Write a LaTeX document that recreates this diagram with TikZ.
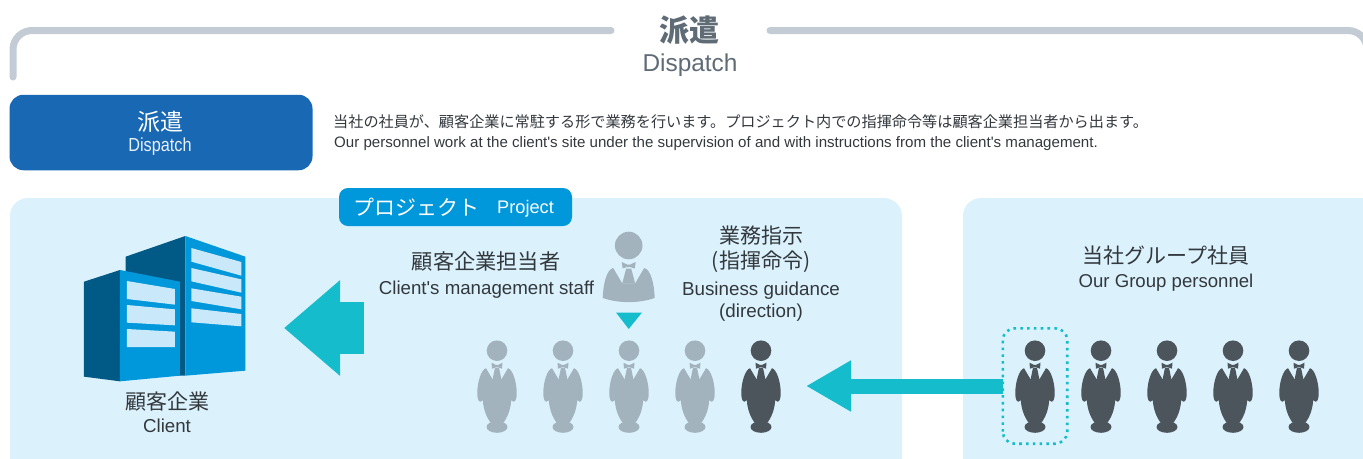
\documentclass[tikz,border=0pt]{standalone}
\usepackage{fontspec}
\setmainfont{Liberation Sans}
\newfontfamily\jp{Noto Sans CJK JP}
\newfontfamily\narrowf[FakeStretch=.86]{Liberation Sans}
\newfontfamily\plainf{Liberation Sans}
\usetikzlibrary{arrows.meta}
\definecolor{frameC}{HTML}{C3CCD4}
\definecolor{panelC}{HTML}{DBF2FD}
\definecolor{boxC}{HTML}{1868B4}
\definecolor{projC}{HTML}{0097DB}
\definecolor{tealC}{HTML}{15BCCC}
\definecolor{grayP}{HTML}{A3B3BD}
\definecolor{darkP}{HTML}{4C545C}
\definecolor{bldD}{HTML}{015A85}
\definecolor{winC}{HTML}{C9E9FB}
\definecolor{titleC}{HTML}{5F6B75}
\definecolor{textC}{HTML}{33383D}
\newcommand\fs[1]{\fontsize{#1}{#1}\selectfont}
\newcommand\sq{{\plainf\char"27}}
\tikzset{
  lbl/.style={anchor=base,inner sep=0pt,text=textC,align=center},
  panel/.style={fill=panelC,rounded corners=18pt},
  person/.pic={
    \fill[#1] (0,0) circle[radius=10.3];
    \fill[#1] (-11,17.5) .. controls (-16,19) and (-19.7,32) .. (-19.7,42)
      .. controls (-19.7,47) and (-19,51) .. (-16.5,51) -- (-14.2,49.5)
      .. controls (-13.5,60) and (-10,67) .. (-6.5,72) -- (6.5,72)
      .. controls (10,67) and (13.5,60) .. (14.2,49.5) -- (16.5,51)
      .. controls (19,51) and (19.7,47) .. (19.7,42)
      .. controls (19.7,32) and (16,19) .. (11,17.5) -- (4.5,28.5) -- (-4.5,28.5) -- cycle;
    \fill[#1] (0,76.3) ellipse[x radius=10.5,y radius=5.8];
    \fill[#1] (-2,17) -- (2,17) -- (4.5,29) -- (-4.5,29) -- cycle;
    \fill[#1] (-5.5,12) -- (-1,14.2) -- (1,14.2) -- (5.5,12) -- (5,18) -- (1,16.5) -- (-1,16.5) -- (-5,18) -- cycle;
  }
}
\begin{document}
\begin{tikzpicture}[x=1pt,y=-1pt]
\path[use as bounding box] (0,0) rectangle (1363,458);
\clip (0,0) rectangle (1363,458);
% frame
\coordinate (frameL) at (13,77);
\coordinate (frameLE) at (611,30.5);
\coordinate (frameRS) at (770,30.5);
\draw[frameC,line width=7pt,line cap=round,rounded corners=19pt] (frameL) -- (13,30.5) -- (frameLE);
\draw[frameC,line width=7pt,line cap=round,rounded corners=19pt] (frameRS) -- (1367,30.5) -- (1367,77);
\node[lbl,text=titleC,font=\jp\bfseries\fs{30}] (title) at (689.5,41) {派遣};
\node[lbl,text=titleC,font=\fs{24.4}] (titleEn) at (690,71) {Dispatch};
% blue tag
\node[fill=boxC,rounded corners=14pt,minimum width=303pt,minimum height=75.5pt,inner sep=0pt] (tag) at (161,132.5) {};
\node[lbl,text=white,font=\jp\fs{23}] (tagJa) at (160,130) {派遣};
\node[lbl,text=white!90!boxC,font=\narrowf\fs{18.9}] (tagEn) at (160,151) {Dispatch};
\node[lbl,anchor=base west,font=\jp\fs{15.15}] (descJa) at (333,127.5) {当社の社員が、顧客企業に常駐する形で業務を行います。プロジェクト内での指揮命令等は顧客企業担当者から出ます。};
\node[lbl,anchor=base west,font=\fs{15.1}] (descEn) at (334,147.5) {Our personnel work at the client\sq s site under the supervision of and with instructions from the client\sq s management.};
% panels
\fill[panel] (10,198) rectangle (902,480);
\fill[panel] (963,198) rectangle (1400,480);
\node[fill=projC,rounded corners=9pt,minimum width=233pt,minimum height=38pt,inner sep=0pt] (proj) at (455.5,207) {};
\node[lbl,anchor=base west,text=white,font=\jp\fs{21}] (projJa) at (353,215) {プロジェクト};
\node[lbl,anchor=base west,text=white,font=\fs{18.2}] (projEn) at (497,213) {Project};
% building
\begin{scope}[shift={(0pt,-190pt)},x=0.33333pt,y=-0.33333pt]
\fill[bldD] (377,200) -- (556,138) -- (556,557) -- (377,557) -- cycle;
\fill[projC] (556,138) -- (736,200) -- (736,542) -- (556,557) -- cycle;
\fill[winC] (574,174) -- (724,216) -- (724,257) -- (574,215) -- cycle;
\fill[winC] (574,234) -- (724,268) -- (724,308) -- (574,274) -- cycle;
\fill[winC] (574,295) -- (724,320) -- (724,358) -- (574,333) -- cycle;
\fill[winC] (574,355) -- (724,372) -- (724,409) -- (574,397) -- cycle;
\fill[bldD] (252,275) -- (360,240) -- (360,574) -- (252,560) -- cycle;
\fill[projC] (360,240) -- (540,275) -- (540,557) -- (360,574) -- cycle;
\fill[winC] (381,273) -- (525,297) -- (525,344) -- (381,327) -- cycle;
\fill[winC] (381,345) -- (525,358) -- (525,406) -- (381,398) -- cycle;
\fill[winC] (381,417) -- (525,425) -- (525,471) -- (381,471) -- cycle;
\end{scope}
\node[lbl,font=\jp\fs{21}] (clientJa) at (167,409) {顧客企業};
\node[lbl,font=\fs{18.7}] (clientEn) at (167,432) {Client};
% labels
\node[lbl,font=\jp\fs{21.2}] (mgrJa) at (486,269) {顧客企業担当者};
\node[lbl,font=\fs{18.7}] (mgrEn) at (486.5,294) {Client\sq s management staff};
\node[lbl,font=\jp\fs{21}] (bizJa1) at (761,243) {業務指示};
\node[lbl,font=\jp\fs{21}] (bizJa2) at (761,268) {(指揮命令)};
\node[lbl,font=\fs{18.8}] (bizEn1) at (761,295) {Business guidance};
\node[lbl,font=\fs{18.8}] (bizEn2) at (761,317) {(direction)};
\node[lbl,font=\jp\fs{21}] (grpJa) at (1166,263) {当社グループ社員};
\node[lbl,font=\fs{18.6}] (grpEn) at (1166,287) {Our Group personnel};
% manager
\coordinate (mgr) at (628.7,245.5);
\begin{scope}[shift={(mgr)}]
\fill[grayP] (0,0) circle[radius=13.8];
\fill[grayP] (-15.5,22.5) .. controls (-22,24) and (-25.5,38) .. (-26,52.5)
  .. controls (-10,58) and (10,58) .. (26,52.5)
  .. controls (25.5,38) and (22,24) .. (15.5,22.5) -- (6.5,37.8) -- (-6.5,37.8) -- cycle;
\fill[grayP] (-2.5,23) -- (2.5,23) -- (6.5,38) -- (-6.5,38) -- cycle;
\fill[grayP] (-7,16.5) -- (-1.5,19) -- (1.5,19) -- (7,16.5) -- (6,23) -- (1.5,21.5) -- (-1.5,21.5) -- (-6,23) -- cycle;
\end{scope}
\coordinate (mgrTip) at (628.7,329);
\fill[tealC] (616,312.5) -- (642,312.5) -- (mgrTip) -- cycle;
% people
\foreach \n/\x in {1/497,2/563,3/629,4/695}
  \pic (team\n) at (\x,350.7) {person=grayP};
\coordinate (lead) at (761,350.7);
\pic at (lead) {person=darkP};
\foreach \n/\x in {1/1035,2/1101,3/1167,4/1233,5/1299}
  \pic (grp\n) at (\x,350.7) {person=darkP};
% arrows
\node[minimum width=64pt,minimum height=115pt,inner sep=0pt] (pick) at (1035,386) {};
\coordinate (leadTip) at (806,386);
\draw[tealC,line width=15pt,-{Triangle[length=45pt,width=48pt]}] (pick.west) -- (leadTip);
\coordinate (mgrTail) at (364,328);
\coordinate (bldgTip) at (284,328);
\draw[tealC,line width=52pt,-{Triangle[length=56pt,width=92pt]}] (mgrTail) -- (bldgTip);
\draw[tealC,line width=2.6pt,dash pattern=on 2.6pt off 4.2pt,rounded corners=12pt] (pick.south west) rectangle (pick.north east);
\end{tikzpicture}
\end{document}
